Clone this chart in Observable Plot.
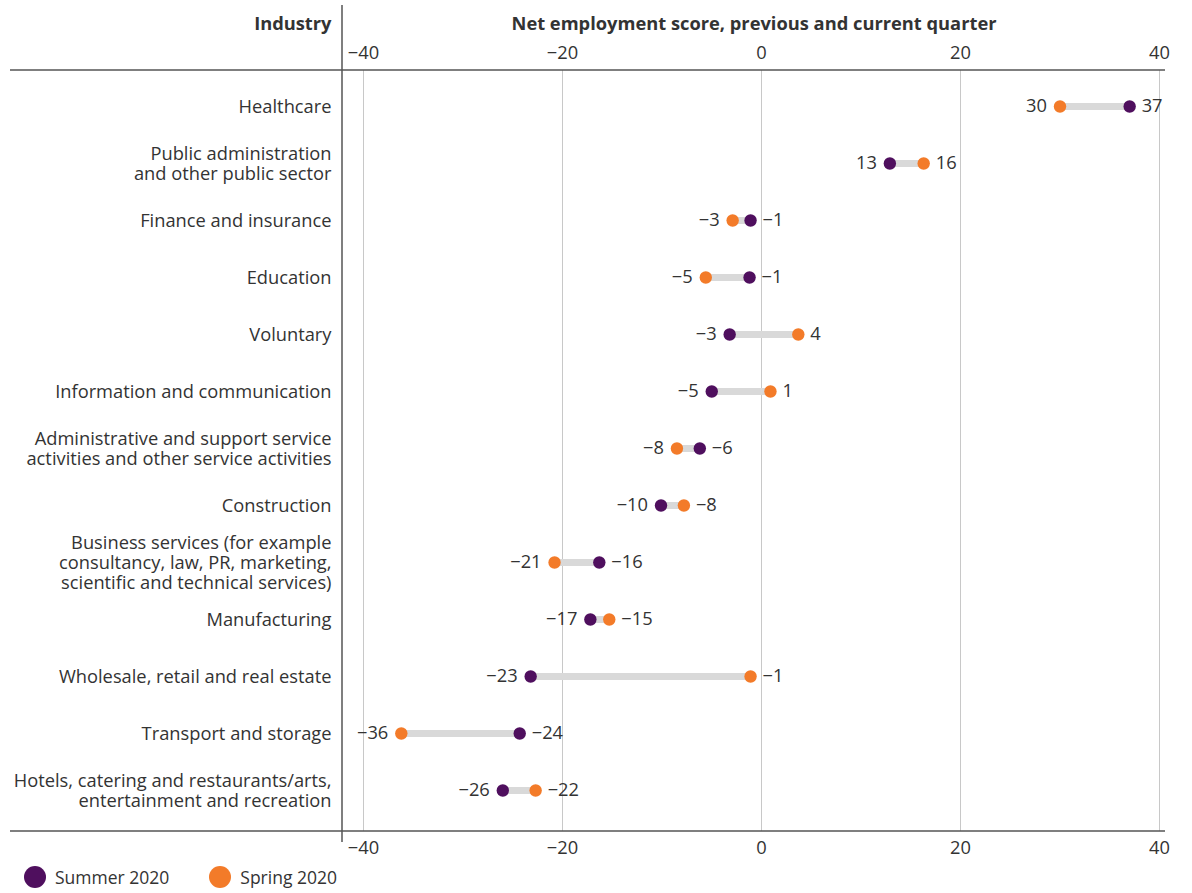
<!DOCTYPE html>
<html><head><meta charset="utf-8">
<script src="https://cdn.jsdelivr.net/npm/d3@7"></script>
<script src="https://cdn.jsdelivr.net/npm/@observablehq/plot@0.6"></script>
<style>
body{margin:0;background:#fff;font-family:"Open Sans",sans-serif;color:#333}
#legend{display:flex;align-items:center;height:30px;padding-left:24px;font-size:17.5px;color:#333}
#legend .item{display:flex;align-items:center;margin-right:40px}
#legend .sw{width:22px;height:22px;border-radius:50%;margin-right:9px}
</style></head><body><div id="chart"></div><div id="legend"></div>
<script>
const industries = [
  "Healthcare",
  "Public administration\nand other public sector",
  "Finance and insurance",
  "Education",
  "Voluntary",
  "Information and communication",
  "Administrative and support service\nactivities and other service activities",
  "Construction",
  "Business services (for example\nconsultancy, law, PR, marketing,\nscientific and technical services)",
  "Manufacturing",
  "Wholesale, retail and real estate",
  "Transport and storage",
  "Hotels, catering and restaurants/arts,\nentertainment and recreation"
];
const summer = [37, 12.9, -1.1, -1.2, -3.2, -5.0, -6.2, -10.1, -16.3, -17.2, -23.2, -24.3, -26.0];
const spring = [30, 16.3, -2.9, -5.6, 3.7, 0.9, -8.5, -7.8, -20.8, -15.3, -1.1, -36.2, -22.7];
const summerLabels = [37, 13, -1, -1, -3, -5, -6, -10, -16, -17, -23, -24, -26];
const springLabels = [30, 16, -3, -5, 4, 1, -8, -8, -21, -15, -1, -36, -22];
const xTicks = [-40, -20, 0, 20, 40];
const seriesNames = ["Summer 2020", "Spring 2020"];
const seriesColors = ["#4f0f5e", "#f37b29"];
const headerLeft = "Industry";
const headerAxis = "Net employment score, previous and current quarter";

const rows = industries.map((name, i) => ({name, summer: summer[i], spring: spring[i]}));
const points = industries.flatMap((name, i) => [
  {name, series: seriesNames[0], value: summer[i], label: summerLabels[i], side: summer[i] <= spring[i] ? "left" : "right"},
  {name, series: seriesNames[1], value: spring[i], label: springLabels[i], side: spring[i] < summer[i] ? "left" : "right"}
]);
const fmt = v => v < 0 ? "\u2212" + Math.abs(v) : String(v);

const plot = Plot.plot({
  width: 1192, height: 862,
  marginLeft: 342, marginRight: 27, marginTop: 70, marginBottom: 31,
  style: {fontFamily: "'Open Sans', sans-serif", fontSize: "18.3px", color: "#333", background: "white", overflow: "visible"},
  x: {domain: [-40, 40], range: [363, 1159], label: null},
  y: {type: "point", domain: industries, range: [105, 790], padding: 0, axis: null, label: null},
  color: {domain: seriesNames, range: seriesColors},
  marks: [
    Plot.gridX(xTicks, {stroke: "#c8c8c8", strokeOpacity: 1, strokeWidth: 1}),
    Plot.axisX(xTicks, {anchor: "top", tickSize: 0, tickPadding: 12, tickFormat: fmt, label: null, fill: "#333"}),
    Plot.axisX(xTicks, {anchor: "bottom", tickSize: 0, tickPadding: 9, tickFormat: fmt, label: null, fill: "#333"}),
    Plot.link(rows, {x1: "summer", x2: "spring", y1: "name", y2: "name", stroke: "#d9d9d9", strokeWidth: 7}),
    Plot.dot(points, {x: "value", y: "name", fill: "series", r: 6.2}),
    Plot.text(points.filter(d => d.side === "left"), {x: "value", y: "name", text: d => fmt(d.label), textAnchor: "end", dx: -13, fill: "#333"}),
    Plot.text(points.filter(d => d.side === "right"), {x: "value", y: "name", text: d => fmt(d.label), textAnchor: "start", dx: 12, fill: "#333"}),
    Plot.text(industries, {y: d => d, text: d => d, frameAnchor: "left", textAnchor: "end", dx: -11, lineHeight: 1.09, fill: "#333"}),
    Plot.text([headerLeft], {frameAnchor: "top-left", textAnchor: "end", dx: -11, dy: -54, fontWeight: "bold", fill: "#333"}),
    Plot.text([headerAxis], {frameAnchor: "top", dy: -54, fontWeight: "bold", fill: "#333"})
  ]
});

// decorative frame lines extending into the margin
const svg = d3.select(plot);
const g = svg.append("g").attr("stroke", "#555").attr("stroke-width", 1.5);
g.append("line").attr("x1", 342).attr("x2", 342).attr("y1", 5).attr("y2", 842);
g.append("line").attr("x1", 10).attr("x2", 1165).attr("y1", 70).attr("y2", 70);
g.append("line").attr("x1", 10).attr("x2", 1165).attr("y1", 831).attr("y2", 831);

document.getElementById("chart").appendChild(plot);

const legend = d3.select("#legend");
seriesNames.forEach((s, i) => {
  const it = legend.append("div").attr("class", "item");
  it.append("div").attr("class", "sw").style("background", seriesColors[i]);
  it.append("span").text(s);
});
</script>
</body></html>
